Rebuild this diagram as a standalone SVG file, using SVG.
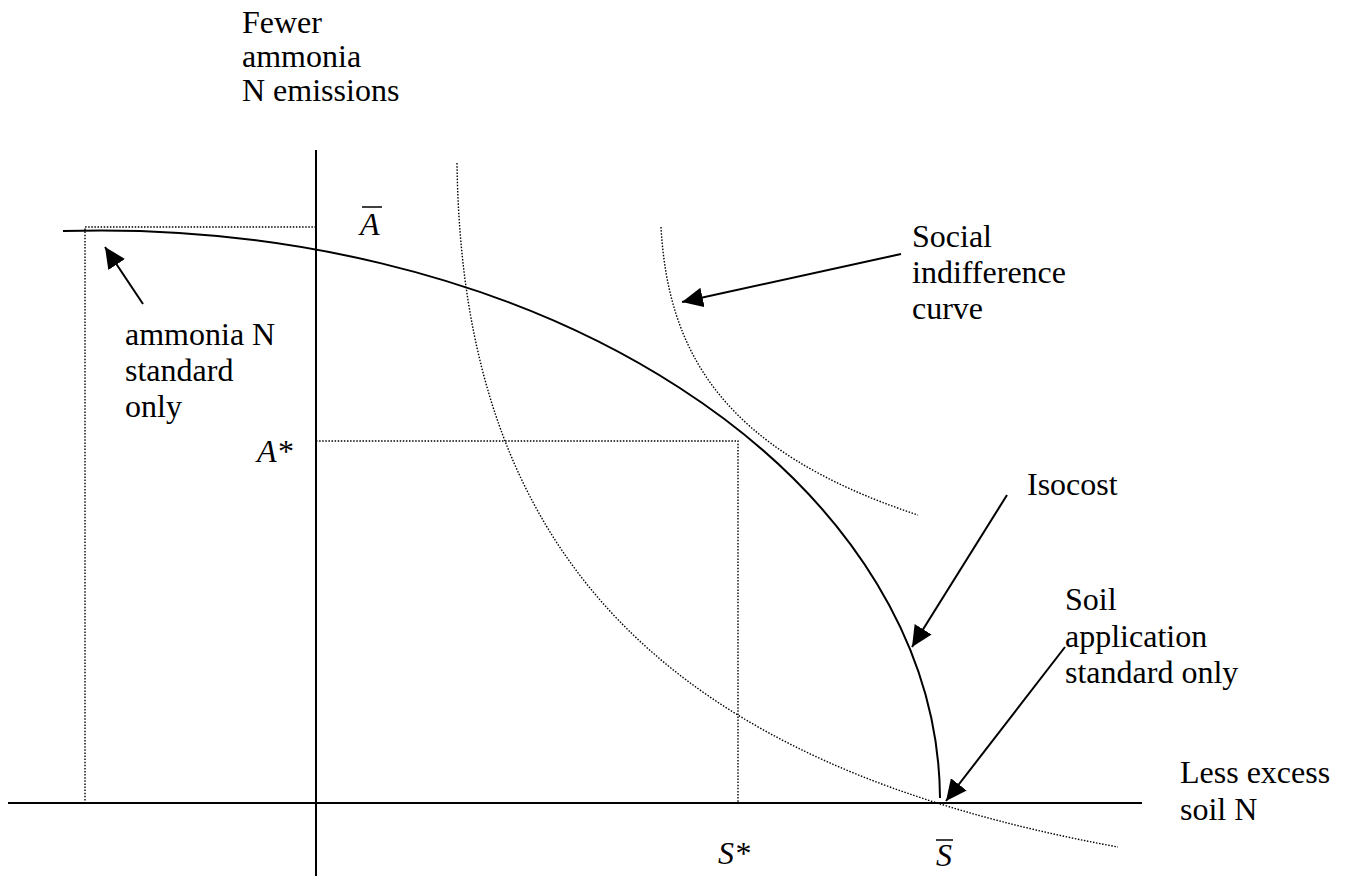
<svg xmlns="http://www.w3.org/2000/svg" width="1345" height="878" viewBox="0 0 1345 878">
<style>
text{font-family:"Liberation Serif","Times New Roman",serif;font-size:32px;fill:#000}
.it{font-style:italic}
.ax{stroke:#000;stroke-width:2;fill:none}
.dot{stroke:#000;stroke-width:1.4;fill:none;stroke-dasharray:1.5 1.6}
.arr{stroke:#000;stroke-width:2;fill:none;marker-end:url(#ah)}
</style>
<defs>
<marker id="ah" markerUnits="userSpaceOnUse" markerWidth="24" markerHeight="22" refX="21" refY="10" orient="auto">
<path d="M0,0 L21,10 L0,20 z" fill="#000"/>
</marker>
</defs>
<rect width="1345" height="878" fill="#fff"/>
<g id="axes">
<line class="ax" x1="316" y1="150" x2="316" y2="876"/>
<line class="ax" x1="8" y1="803" x2="1142" y2="803"/>
</g>
<g id="guides">
<polyline class="dot" points="316,227 85,227 85,803"/>
<polyline class="dot" points="316,441 738,441 738,803"/>
</g>
<g id="isocost">
<path class="ax" d="M63,231 A840,570 0 0 1 940,798"/>
</g>
<g id="indifference-low">
<path class="dot" d="M457,163 C462,560 670,765 1118,847"/>
</g>
<g id="indifference-high">
<path class="dot" d="M661,227 C668,350 720,450 918,515"/>
</g>
<g id="connectors">
<line class="arr" x1="143" y1="304" x2="105" y2="247"/>
<line class="arr" x1="901" y1="254" x2="682" y2="302"/>
<line class="arr" x1="1007" y1="495" x2="912" y2="647"/>
<line class="arr" x1="1065" y1="647" x2="946" y2="801"/>
</g>
<g id="label-y-axis">
<text x="242" y="33">Fewer</text>
<text x="242" y="67">ammonia</text>
<text x="242" y="101">N emissions</text>
</g>
<g id="label-abar">
<text class="it" x="360" y="235">A</text>
<line x1="362" y1="207" x2="382" y2="207" stroke="#000" stroke-width="1.5"/>
</g>
<g id="label-astar"><text class="it" x="257" y="462">A*</text></g>
<g id="label-sstar"><text class="it" x="718" y="864">S*</text></g>
<g id="label-sbar">
<text class="it" x="936" y="866">S</text>
<line x1="936" y1="840" x2="953" y2="840" stroke="#000" stroke-width="1.5"/>
</g>
<g id="label-ammonia-std">
<text x="125" y="345">ammonia N</text>
<text x="125" y="381">standard</text>
<text x="125" y="417">only</text>
</g>
<g id="label-social">
<text x="912" y="247">Social</text>
<text x="912" y="283">indifference</text>
<text x="912" y="319">curve</text>
</g>
<g id="label-isocost"><text x="1027" y="495">Isocost</text></g>
<g id="label-soil-std">
<text x="1065" y="610">Soil</text>
<text x="1065" y="647">application</text>
<text x="1065" y="683">standard only</text>
</g>
<g id="label-x-axis">
<text x="1180" y="783">Less excess</text>
<text x="1180" y="820">soil N</text>
</g>
</svg>
